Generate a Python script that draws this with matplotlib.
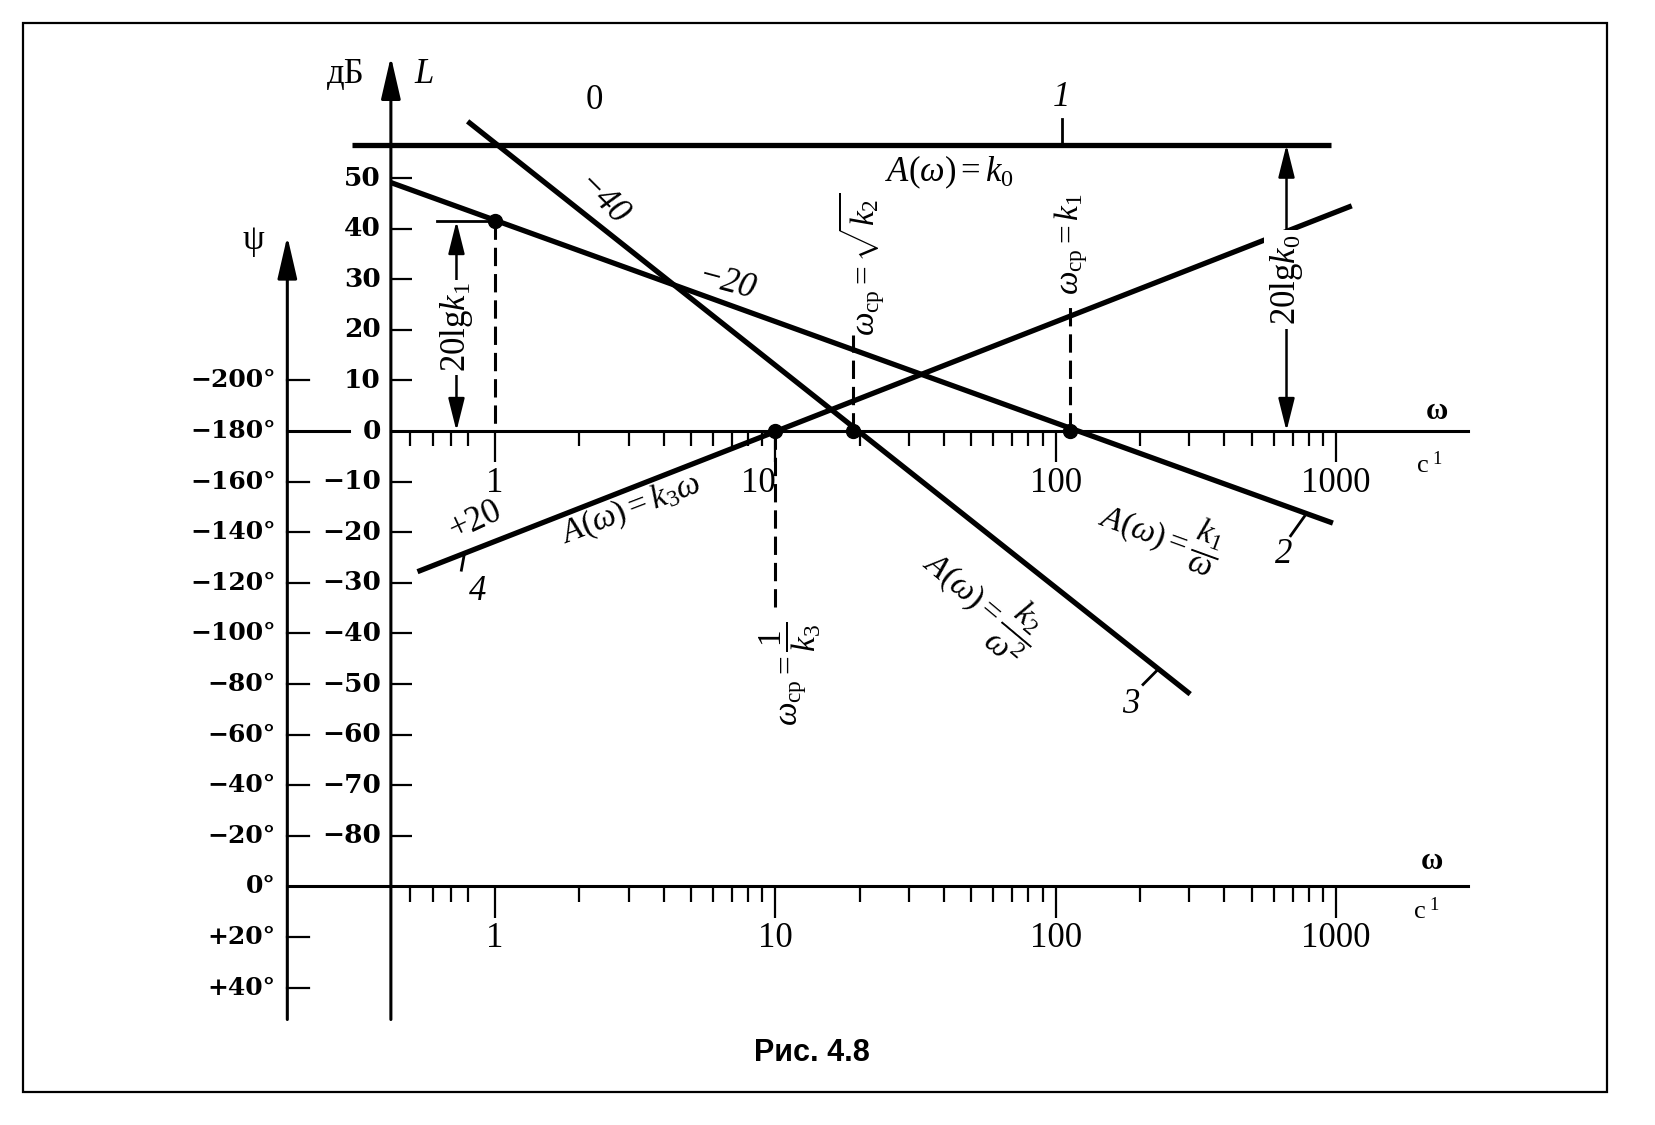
import numpy as np
import matplotlib
matplotlib.use('Agg')
import matplotlib.pyplot as plt
from matplotlib.patches import Rectangle

plt.rcParams['mathtext.fontset'] = 'custom'
plt.rcParams['mathtext.rm'] = 'Liberation Serif'
plt.rcParams['mathtext.it'] = 'Liberation Serif:italic'
plt.rcParams['mathtext.bf'] = 'Liberation Serif:bold'
plt.rcParams['font.family'] = ['Liberation Serif', 'DejaVu Serif']

# ---------------- data (omega in s^-1, L in dB) ----------------
line1_w = [0.309, 957]      # A(w) = k0, slope 0
line1_L = [56.6, 56.6]
line2_w = [0.426, 975]      # A(w) = k1/w, slope -20
line2_L = [49.1, -18.2]
line3_w = [0.80, 302]       # A(w) = k2/w^2, slope -40
line3_L = [61.2, -52.0]
line4_w = [0.53, 1138]      # A(w) = k3 w, slope +20
line4_L = [-27.8, 44.5]

points_w = [1, 10, 19, 113]
points_L = [41.5, 0, 0, 0]

db_ticks = [50, 40, 30, 20, 10, -10, -20, -30, -40, -50, -60, -70, -80]
db_labels = ['50', '40', '30', '20', '10', '−10', '−20', '−30', '−40',
             '−50', '−60', '−70', '−80']
psi_ticks_dB = [10, 0, -10, -20, -30, -40, -50, -60, -70, -80, -90, -100, -110]
psi_labels = ['−200°', '−180°', '−160°', '−140°', '−120°', '−100°', '−80°',
              '−60°', '−40°', '−20°', '0°', '+20°', '+40°']
w_major = [1, 10, 100, 1000]
w_major_labels = ['1', '10', '100', '1000']
w_minor = [0.5, 0.6, 0.7, 0.8] + [m * d for d in (1, 10, 100) for m in range(2, 10)]

# ---------------- figure ----------------
fig = plt.figure(figsize=(16.56, 11.25), dpi=100)
ax = fig.add_axes([0, 0, 1, 1])
ax.set_xscale('log')
ax.set_xlim(10 ** -1.7646, 10 ** 4.1412)
ax.set_ylim(-137.15, 85.18)
ax.axis('off')

fig.patches.append(Rectangle((0.0140, 0.0293), 0.9705 - 0.0140, 0.9795 - 0.0293,
                             transform=fig.transFigure, fill=False, lw=1.6, ec='k'))

k = 'black'
L_ax = 0.426     # L axis position
P_ax = 0.182     # psi axis position
w_end = 2958
bottom = -116.3
lw_ax = 2.2

# axes
ax.annotate('', xy=(L_ax, 74), xytext=(L_ax, bottom),
            arrowprops=dict(arrowstyle='-|>,head_length=1.3,head_width=0.3', lw=lw_ax,
                            color=k, shrinkA=0, shrinkB=0, mutation_scale=20))
ax.annotate('', xy=(P_ax, 38.5), xytext=(P_ax, bottom),
            arrowprops=dict(arrowstyle='-|>,head_length=1.3,head_width=0.3', lw=lw_ax,
                            color=k, shrinkA=0, shrinkB=0, mutation_scale=20))
ax.plot([L_ax, w_end], [0, 0], color=k, lw=lw_ax)
ax.plot([P_ax, 0.303], [0, 0], color=k, lw=lw_ax)
ax.plot([P_ax, w_end], [-90, -90], color=k, lw=lw_ax)

# omega ticks (upper and lower axes)
for base in (0, -90):
    ax.vlines(w_minor, base - 3.0, base, color=k, lw=1.6)
    ax.vlines(w_major, base - 6.2, base, color=k, lw=1.6)

upper_lab_w = [1, 8.7, 100, 1000]
for w, s in zip(upper_lab_w, w_major_labels):
    ax.text(w, -10.3, s, fontsize=25, ha='center', va='center')
for w, s in zip(w_major, w_major_labels):
    ax.text(w, -100.2, s, fontsize=25, ha='center', va='center')

# dB ticks & labels
ax.hlines(db_ticks, L_ax, L_ax * 1.19, color=k, lw=1.6)
for v, s in zip(db_ticks, db_labels):
    ax.text(0.392, v, s, fontsize=19, ha='right', va='center', family='DejaVu Serif',
            weight='bold')
ax.text(0.392, 0, '0', fontsize=19, ha='right', va='center', family='DejaVu Serif',
        weight='bold')

# psi ticks & labels
for v, s in zip(psi_ticks_dB, psi_labels):
    if v not in (0, -90):
        ax.plot([P_ax, P_ax * 1.19], [v, v], color=k, lw=1.6)
    ax.text(0.1654, v, s, fontsize=18, ha='right', va='center', family='DejaVu Serif',
            weight='bold')

# axis titles
ax.text(0.295, 70.5, 'дБ', fontsize=25, ha='center', va='center')
ax.text(0.56, 70.5, 'L', fontsize=25, ha='center', va='center', style='italic')
ax.text(0.138, 37.6, 'ψ', fontsize=25, ha='center', va='center')
ax.text(2282, 3.8, 'ω', fontsize=22, ha='center', va='center', weight='bold')
ax.text(2150, -6.7, 'с$^{\\ 1}$', fontsize=19, ha='center', va='center')
ax.text(2200, -85.0, 'ω', fontsize=22, ha='center', va='center', weight='bold')
ax.text(2100, -94.8, 'с$^{\\ 1}$', fontsize=19, ha='center', va='center')

# characteristic lines
for xs, ys in ((line1_w, line1_L), (line2_w, line2_L), (line3_w, line3_L), (line4_w, line4_L)):
    ax.plot(xs, ys, color=k, lw=3.8, solid_capstyle='butt', zorder=3)

ax.plot(points_w, points_L, 'o', color=k, ms=10, zorder=4)

# dashed verticals
dash = (0, (6, 2.6))
ax.plot([1, 1], [41.5, 0], color=k, lw=2.2, ls=dash)
ax.plot([10, 10], [0, -36], color=k, lw=2.2, ls=dash)
ax.plot([19, 19], [0, 19], color=k, lw=2.2, ls=dash)
ax.plot([113, 113], [0, 24.8], color=k, lw=2.2, ls=dash)

# 20lg k1 marker
ax.plot([0.62, 1], [41.5, 41.5], color=k, lw=2.0)
ax.annotate('', xy=(0.73, 41.5), xytext=(0.73, 0),
            arrowprops=dict(arrowstyle='<|-|>,head_length=1.0,head_width=0.25', lw=1.8,
                            color=k, shrinkA=0, shrinkB=0, mutation_scale=20))
ax.text(0.73, 20.5, '$20\\mathrm{lg}k_1$', fontsize=25, rotation=90, ha='center', va='center',
        bbox=dict(facecolor='white', edgecolor='none', pad=2), zorder=5)

# 20lg k0 marker
ax.annotate('', xy=(666, 56.6), xytext=(666, 0),
            arrowprops=dict(arrowstyle='<|-|>,head_length=1.0,head_width=0.25', lw=1.8,
                            color=k, shrinkA=0, shrinkB=0, mutation_scale=20))
ax.text(666, 29.9, '$20\\mathrm{lg}k_0$', fontsize=25, rotation=90, ha='center', va='center',
        bbox=dict(facecolor='white', edgecolor='none', pad=3), zorder=5)

# slope labels
ax.text(2.27, 65.3, '0', fontsize=25, ha='center', va='center')
ax.text(2.41, 45.5, '−40', fontsize=25, ha='center', va='center', rotation=-45, style='italic')
ax.text(6.71, 29.2, '−20', fontsize=25, ha='center', va='center', rotation=-15, style='italic')
ax.text(0.85, -17.7, '+20', fontsize=25, ha='center', va='center', rotation=25)

# formula labels
ax.text(41.9, 51.1, '$A(\\omega)=k_0$', fontsize=25, ha='center', va='center')
ax.text(3.05, -15.4, '$A(\\omega)=k_3\\omega$', fontsize=24, ha='center', va='center', rotation=21)
ax.text(239, -19.8, '$A(\\omega)=\\dfrac{k_1}{\\omega}$', fontsize=24, ha='center', va='center',
        rotation=-20)
ax.text(53.8, -33.6, '$A(\\omega)=\\dfrac{k_2}{\\omega^2}$', fontsize=24, ha='center', va='center',
        rotation=-40)

# crossover labels
ax.text(11.3, -48.0, '$\\omega_{\\mathrm{ср}}=\\dfrac{1}{k_3}$', fontsize=24, rotation=90,
        ha='center', va='center')
ax.text(20.4, 33.0, '$\\omega_{\\mathrm{ср}}=\\sqrt{k_2}$', fontsize=24, rotation=90,
        ha='center', va='center')
ax.text(113.5, 37.0, '$\\omega_{\\mathrm{ср}}=k_1$', fontsize=24, rotation=90,
        ha='center', va='center')

# curve numbers with leaders
ax.plot([105, 105], [56.6, 61.6], color=k, lw=2.0)
ax.text(105, 66.0, '1', fontsize=25, ha='center', va='center', style='italic')
ax.plot([771, 689], [-16.9, -20.7], color=k, lw=2.0)
ax.text(649, -24.4, '2', fontsize=25, ha='center', va='center', style='italic')
ax.plot([233, 205], [-47.0, -50.1], color=k, lw=2.0)
ax.text(186, -54.1, '3', fontsize=25, ha='center', va='center', style='italic')
ax.plot([0.78, 0.76], [-24.1, -27.5], color=k, lw=2.0)
ax.text(0.87, -31.7, '4', fontsize=25, ha='center', va='center', style='italic')

# caption
fig.text(0.490, 0.064, 'Рис. 4.8', fontsize=22, ha='center', va='center',
         family='Liberation Sans', weight='bold')

fig.savefig('out.png', dpi=100)
